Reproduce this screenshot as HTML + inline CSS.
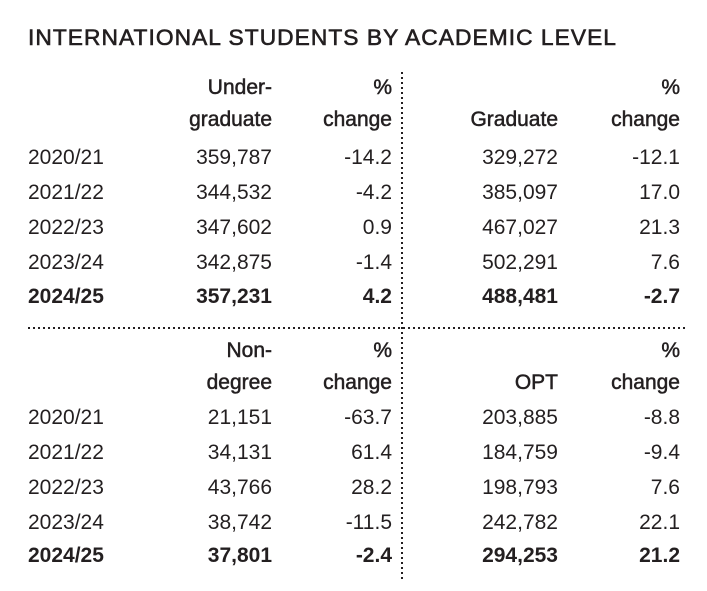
<!DOCTYPE html>
<html><head><meta charset="utf-8"><style>
html,body{margin:0;padding:0;background:#fff;}
svg text{font-family:"Liberation Sans",sans-serif;fill:#231f20;font-size:21px;}
.r{text-anchor:end}
.b{font-weight:bold}
.h{stroke:#231f20;stroke-width:0.5}
</style></head><body>
<svg width="707" height="586" viewBox="0 0 707 586" xmlns="http://www.w3.org/2000/svg">
<text x="28" y="45" textLength="589" lengthAdjust="spacingAndGlyphs" style="font-size:22px;letter-spacing:1px;stroke:#231f20;stroke-width:0.6">INTERNATIONAL STUDENTS BY ACADEMIC LEVEL</text>
<line x1="402" y1="72" x2="402" y2="582" stroke="#231f20" stroke-width="2" stroke-dasharray="2 3"/>
<line x1="28" y1="328" x2="686" y2="328" stroke="#231f20" stroke-width="2" stroke-dasharray="2 3"/>
<g>
<text class="r h" x="272" y="94">Under-</text><text class="r h" x="392" y="94">%</text><text class="r h" x="680" y="94">%</text>
<text class="r h" x="272" y="126">graduate</text><text class="r h" x="392" y="126">change</text><text class="r h" x="558" y="126">Graduate</text><text class="r h" x="680" y="126">change</text>

<text x="28" y="164">2020/21</text><text class="r" x="272" y="164">359,787</text><text class="r" x="392" y="164">-14.2</text><text class="r" x="558" y="164">329,272</text><text class="r" x="680" y="164">-12.1</text>
<text x="28" y="199">2021/22</text><text class="r" x="272" y="199">344,532</text><text class="r" x="392" y="199">-4.2</text><text class="r" x="558" y="199">385,097</text><text class="r" x="680" y="199">17.0</text>
<text x="28" y="234">2022/23</text><text class="r" x="272" y="234">347,602</text><text class="r" x="392" y="234">0.9</text><text class="r" x="558" y="234">467,027</text><text class="r" x="680" y="234">21.3</text>
<text x="28" y="269">2023/24</text><text class="r" x="272" y="269">342,875</text><text class="r" x="392" y="269">-1.4</text><text class="r" x="558" y="269">502,291</text><text class="r" x="680" y="269">7.6</text>
<text class="b" x="28" y="303">2024/25</text><text class="r b" x="272" y="303">357,231</text><text class="r b" x="392" y="303">4.2</text><text class="r b" x="558" y="303">488,481</text><text class="r b" x="680" y="303">-2.7</text>

<text class="r h" x="272" y="357">Non-</text><text class="r h" x="392" y="357">%</text><text class="r h" x="680" y="357">%</text>
<text class="r h" x="272" y="389">degree</text><text class="r h" x="392" y="389">change</text><text class="r h" x="558" y="389">OPT</text><text class="r h" x="680" y="389">change</text>

<text x="28" y="424">2020/21</text><text class="r" x="272" y="424">21,151</text><text class="r" x="392" y="424">-63.7</text><text class="r" x="558" y="424">203,885</text><text class="r" x="680" y="424">-8.8</text>
<text x="28" y="459">2021/22</text><text class="r" x="272" y="459">34,131</text><text class="r" x="392" y="459">61.4</text><text class="r" x="558" y="459">184,759</text><text class="r" x="680" y="459">-9.4</text>
<text x="28" y="494">2022/23</text><text class="r" x="272" y="494">43,766</text><text class="r" x="392" y="494">28.2</text><text class="r" x="558" y="494">198,793</text><text class="r" x="680" y="494">7.6</text>
<text x="28" y="529">2023/24</text><text class="r" x="272" y="529">38,742</text><text class="r" x="392" y="529">-11.5</text><text class="r" x="558" y="529">242,782</text><text class="r" x="680" y="529">22.1</text>
<text class="b" x="28" y="562">2024/25</text><text class="r b" x="272" y="562">37,801</text><text class="r b" x="392" y="562">-2.4</text><text class="r b" x="558" y="562">294,253</text><text class="r b" x="680" y="562">21.2</text>
</g>
</svg>
</body></html>
